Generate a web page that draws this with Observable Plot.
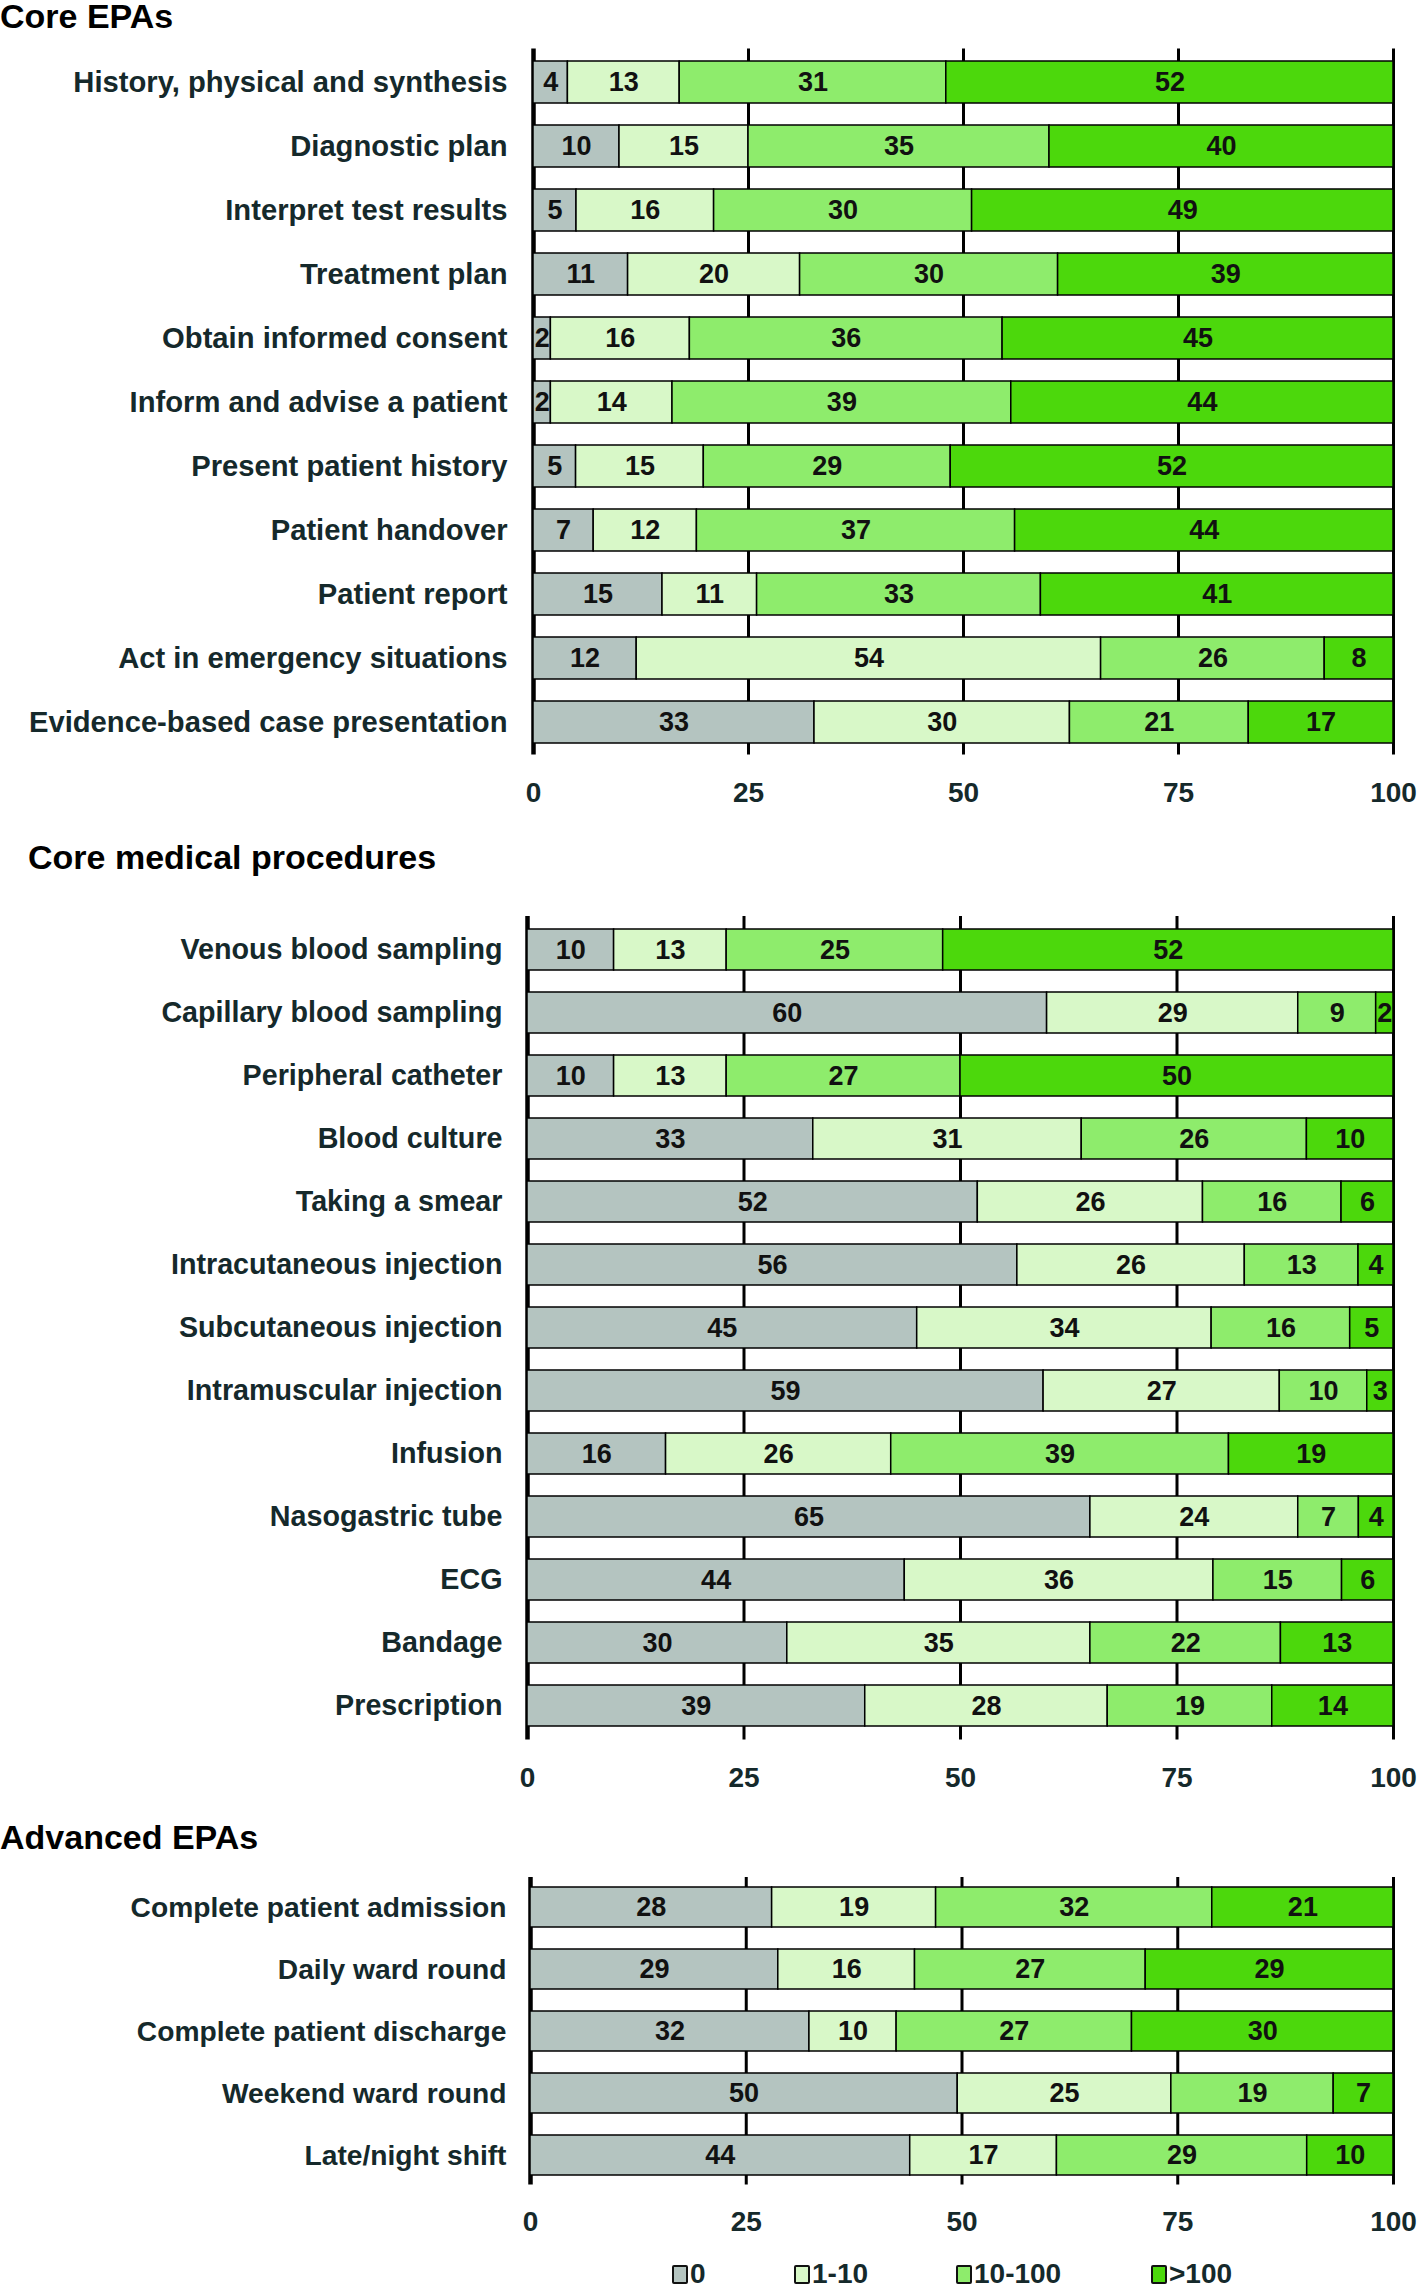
<!DOCTYPE html>
<html>
<head>
<meta charset="utf-8">
<script src="https://cdn.jsdelivr.net/npm/d3@7"></script>
<script src="https://cdn.jsdelivr.net/npm/@observablehq/plot@0.6"></script>
<style>
  html, body { margin: 0; padding: 0; background: #fff; }
  body { width: 1418px; height: 2292px; position: relative; overflow: hidden;
         font-family: "Liberation Sans", Arial, Helvetica, sans-serif; }
  .title { position: absolute; font-size: 34px; font-weight: bold; color: #000;
           line-height: 34px; white-space: nowrap; z-index: 2; }
  .sec { position: absolute; left: 0; z-index: 1; }
  .legend { position: absolute; left: 0; top: 2258px; width: 1418px; height: 32px;
            font-size: 28px; font-weight: bold; color: #15292b; line-height: 32px; z-index: 2; }
  .legend .item { position: absolute; top: 0; display: flex; align-items: center; white-space: nowrap; }
  .legend .sw { width: 12px; height: 15px; border: 2px solid #111; border-radius: 2px; margin-right: 2px; }
</style>
</head>
<body>
<div class="title" id="t1" style="left:0px; top:-1px;">Core EPAs</div>
<div class="sec" id="s1" style="top:0px;"></div>
<div class="title" id="t2" style="left:28px; top:840px;">Core medical procedures</div>
<div class="sec" id="s2" style="top:880px;"></div>
<div class="title" id="t3" style="left:0px; top:1820px;">Advanced EPAs</div>
<div class="sec" id="s3" style="top:1860px;"></div>
<div class="legend" id="legend"></div>
<script>
// ---- legend categories (number of times performed) ----
const categories = ["0", "1-10", "10-100", ">100"];
const colors = ["#b4c4c0", "#d8f8c8", "#8eec6c", "#4cd80c"];
const xTicks = [0, 25, 50, 75, 100];

// ---- Core EPAs ----
const coreEpaLabels = [
  "History, physical and synthesis", "Diagnostic plan", "Interpret test results",
  "Treatment plan", "Obtain informed consent", "Inform and advise a patient",
  "Present patient history", "Patient handover", "Patient report",
  "Act in emergency situations", "Evidence-based case presentation"
];
const coreEpaNone   = [4, 10, 5, 11, 2, 2, 5, 7, 15, 12, 33];
const coreEpaFew    = [13, 15, 16, 20, 16, 14, 15, 12, 11, 54, 30];
const coreEpaSome   = [31, 35, 30, 30, 36, 39, 29, 37, 33, 26, 21];
const coreEpaMany   = [52, 40, 49, 39, 45, 44, 52, 44, 41, 8, 17];

// ---- Core medical procedures ----
const procLabels = [
  "Venous blood sampling", "Capillary blood sampling", "Peripheral catheter",
  "Blood culture", "Taking a smear", "Intracutaneous injection",
  "Subcutaneous injection", "Intramuscular injection", "Infusion",
  "Nasogastric tube", "ECG", "Bandage", "Prescription"
];
const procNone = [10, 60, 10, 33, 52, 56, 45, 59, 16, 65, 44, 30, 39];
const procFew  = [13, 29, 13, 31, 26, 26, 34, 27, 26, 24, 36, 35, 28];
const procSome = [25, 9, 27, 26, 16, 13, 16, 10, 39, 7, 15, 22, 19];
const procMany = [52, 2, 50, 10, 6, 4, 5, 3, 19, 4, 6, 13, 14];

// ---- Advanced EPAs ----
const advLabels = [
  "Complete patient admission", "Daily ward round", "Complete patient discharge",
  "Weekend ward round", "Late/night shift"
];
const advNone = [28, 29, 32, 50, 44];
const advFew  = [19, 16, 10, 25, 17];
const advSome = [32, 27, 27, 19, 29];
const advMany = [21, 29, 30, 7, 10];

function rows(labels, series) {
  const out = [];
  labels.forEach((label, i) => {
    categories.forEach((cat, j) => out.push({label, cat, value: series[j][i]}));
  });
  return out;
}

function section(labels, series, o) {
  const data = rows(labels, series);
  const stackOpts = {x: "value", y: "label", order: categories, offset: "normalize"};
  return Plot.plot({
    width: 1418,
    height: o.height,
    marginLeft: o.left,
    marginRight: 25,
    marginTop: o.top,
    marginBottom: o.bottom,
    style: {
      fontFamily: '"Liberation Sans", Arial, Helvetica, sans-serif',
      fontSize: "28px",
      fontWeight: "bold",
      color: "#15292b",
      background: "transparent",
      overflow: "visible"
    },
    x: {domain: [0, 1], label: null},
    y: {domain: labels, paddingInner: 0.35, paddingOuter: 0.14, label: null},
    color: {domain: categories, range: colors},
    marks: [
      Plot.gridX({ticks: xTicks.slice(1).map(d => d / 100), stroke: "#000", strokeOpacity: 1, strokeWidth: 3}),
      Plot.gridX({ticks: [0], stroke: "#000", strokeOpacity: 1, strokeWidth: 4.5}),
      Plot.barX(data, Plot.stackX({...stackOpts, fill: "cat", stroke: "#000", strokeWidth: 1.5})),
      Plot.text(data, Plot.stackX({...stackOpts, z: "cat", text: "value",
        fontSize: 27, fontWeight: "bold", fill: "#111"})),
      Plot.axisX({ticks: xTicks.map(d => d / 100), tickFormat: d => String(Math.round(d * 100)),
        tickSize: 0, tickPadding: o.xpad, fontSize: 28, fontWeight: "bold", label: null}),
      Plot.axisY({tickSize: 0, tickPadding: o.ypad, fontSize: o.yfont, fontWeight: "bold", label: null})
    ]
  });
}

document.getElementById("s1").append(section(coreEpaLabels,
  [coreEpaNone, coreEpaFew, coreEpaSome, coreEpaMany],
  {height: 830, top: 48.5, bottom: 75.4, left: 533, xpad: 27, ypad: 26, yfont: 29.2}));
document.getElementById("s2").append(section(procLabels,
  [procNone, procFew, procSome, procMany],
  {height: 930, top: 35.9, bottom: 70.5, left: 527, xpad: 27, ypad: 25, yfont: 28.7}));
document.getElementById("s3").append(section(advLabels,
  [advNone, advFew, advSome, advMany],
  {height: 390, top: 17, bottom: 65.4, left: 530, xpad: 26, ypad: 24, yfont: 28.2}));

// legend items, left edges of the swatches
const legendLeft = [672, 794, 956, 1151];
const legend = document.getElementById("legend");
categories.forEach((c, i) => {
  const item = document.createElement("div");
  item.className = "item";
  item.style.left = legendLeft[i] + "px";
  const sw = document.createElement("div");
  sw.className = "sw";
  sw.style.background = colors[i];
  const t = document.createElement("span");
  t.textContent = c;
  item.append(sw, t);
  legend.append(item);
});
</script>
</body>
</html>
